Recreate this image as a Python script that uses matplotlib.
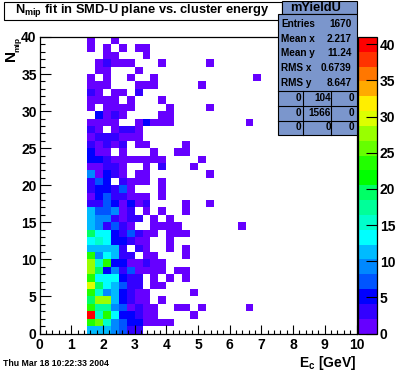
import matplotlib
matplotlib.use("Agg")
import matplotlib.pyplot as plt
from matplotlib.colors import ListedColormap, BoundaryNorm
from matplotlib.patches import Rectangle
from matplotlib.ticker import MultipleLocator
import numpy as np

plt.rcParams['font.family'] = ['Liberation Sans', 'DejaVu Sans']
plt.rcParams['font.weight'] = 'bold'
plt.rcParams['mathtext.fontset'] = 'custom'
plt.rcParams['mathtext.bf'] = 'Liberation Sans:bold'
plt.rcParams['mathtext.rm'] = 'Liberation Sans:bold'

W, H = 396, 372

palette = ['#6600ff', '#3300ff', '#0000ff', '#0055ff', '#0088ff', '#00bbff', '#00ffff',
           '#00ffcc', '#00ff99', '#00ff66', '#00ff00', '#22ff00', '#66ff00', '#99ff00',
           '#ddff00', '#ffee00', '#ffaa00', '#ff7700', '#ff3300', '#ff0000']
z_max = 41

# one dict per y bin, top row (39) first. key = column, 0.25 GeV wide, starting at 1.5 GeV
rows = [
    {0: 1, 3: 1},
    {0: 1, 2: 1, 4: 1, 6: 1, 7: 1},
    {2: 1, 3: 1, 7: 1},
    {1: 1, 2: 3, 3: 1, 4: 1, 5: 1, 9: 1, 15: 1},
    {1: 1, 2: 1, 6: 1},
    {0: 1, 2: 1, 5: 1, 8: 1, 21: 1},
    {0: 1, 1: 1, 2: 1, 6: 1, 7: 1, 8: 1, 14: 1},
    {0: 3, 1: 1, 3: 1, 4: 1, 6: 3},
    {0: 1, 1: 1, 2: 1, 3: 1, 5: 1, 9: 1},
    {0: 1, 2: 1, 3: 1, 4: 1, 5: 1, 10: 1, 15: 1},
    {1: 5, 2: 1, 3: 3, 4: 1, 9: 1, 10: 1},
    {0: 1, 1: 1, 2: 1, 3: 1, 6: 1, 7: 5, 8: 1, 9: 1, 10: 1, 20: 1},
    {0: 3, 1: 1, 3: 1, 4: 3, 5: 3, 6: 1},
    {0: 1, 1: 3, 2: 3, 3: 3, 4: 1, 5: 1, 6: 1},
    {0: 3, 1: 1, 2: 3, 3: 1, 4: 3, 6: 1, 7: 1, 12: 1},
    {0: 5, 1: 1, 2: 1, 4: 1, 8: 1, 11: 1, 12: 1},
    {0: 5, 1: 5, 2: 3, 3: 1, 4: 1, 5: 1, 6: 1, 7: 1, 8: 1, 9: 1, 14: 1},
    {0: 1, 1: 1, 2: 3, 3: 3, 4: 1, 7: 1, 9: 3, 13: 1},
    {0: 9, 1: 1, 2: 5, 3: 3, 4: 1, 6: 1, 7: 1, 15: 1},
    {0: 3, 1: 7, 2: 5, 4: 3, 5: 1, 6: 1, 7: 1, 9: 1},
    {0: 3, 1: 5, 2: 5, 3: 3, 4: 7, 5: 1, 9: 1},
    {0: 1, 1: 5, 2: 7, 3: 3, 4: 3, 5: 1, 6: 1, 7: 1, 9: 1},
    {0: 3, 1: 3, 2: 7, 3: 5, 4: 1, 5: 5, 6: 1, 7: 3, 12: 1, 15: 1},
    {0: 11, 1: 7, 2: 7, 3: 9, 4: 1, 5: 3, 7: 1, 9: 1, 12: 1},
    {0: 11, 1: 9, 2: 9, 3: 3, 4: 1, 5: 3, 6: 3, 8: 1, 10: 1},
    {0: 11, 1: 9, 2: 3, 3: 7, 4: 3, 5: 1, 8: 1, 9: 1, 10: 1, 11: 1, 19: 1},
    {0: 19, 1: 13, 2: 13, 3: 5, 4: 3, 5: 7, 6: 3, 7: 1, 8: 1, 10: 1, 11: 1, 12: 1},
    {0: 13, 1: 15, 2: 13, 3: 5, 4: 5, 5: 3, 6: 1, 7: 1, 10: 1},
    {0: 11, 1: 11, 2: 11, 3: 11, 4: 3, 6: 3, 7: 1, 10: 1, 12: 1},
    {0: 24, 1: 9, 2: 13, 3: 11, 4: 3, 5: 3, 7: 1, 8: 1, 12: 1},
    {0: 28, 1: 15, 2: 24, 3: 5, 4: 5, 5: 1, 6: 1, 7: 3, 8: 1, 9: 1},
    {0: 28, 1: 19, 2: 5, 3: 9, 4: 3, 5: 7, 6: 1, 7: 1, 8: 1, 9: 1, 11: 1, 12: 1},
    {0: 24, 1: 13, 2: 13, 3: 13, 4: 5, 5: 3, 6: 3, 8: 1, 10: 1, 12: 1},
    {0: 30, 1: 19, 2: 13, 3: 11, 4: 7, 5: 3, 6: 3, 8: 1, 9: 1},
    {0: 24, 1: 15, 2: 9, 3: 11, 4: 5, 5: 3, 6: 1, 7: 1, 13: 1},
    {0: 19, 1: 28, 2: 28, 3: 11, 4: 5, 5: 3, 6: 1, 7: 1, 9: 1},
    {0: 24, 1: 17, 2: 17, 3: 9, 4: 7, 5: 1, 6: 3, 7: 1, 8: 1, 11: 1, 12: 1, 14: 1, 20: 1},
    {0: 40, 1: 15, 2: 24, 3: 13, 4: 5, 5: 5, 6: 3, 7: 1, 8: 1, 13: 1},
    {0: 24, 1: 26, 2: 15, 3: 9, 4: 7, 5: 5, 6: 5, 7: 1, 8: 1, 9: 1, 10: 1},
    {0: 11, 1: 11, 2: 11, 3: 9, 4: 7, 5: 3, 6: 3},
]

stat_names = ['Entries', 'Mean x', 'Mean y', 'RMS x', 'RMS y']
stat_values = ['1670', '2.217', '11.24', '0.6739', '8.647']
overflow = [['0', '104', '0'], ['0', '1566', '0'], ['0', '0', '0']]

x_edges = np.arange(0, 10.01, 0.25)
y_edges = np.arange(0, 41)
z = np.full((40, 40), np.nan)
for i, row in enumerate(rows):
    for col, v in row.items():
        z[39 - i, 6 + col] = v


def box(l, t, r, b):
    # pixel box -> figure fractions
    return [l / W, 1 - b / H, (r - l) / W, (b - t) / H]


fig = plt.figure(figsize=(W / 100, H / 100), dpi=100, facecolor='white')
ax = fig.add_axes(box(39.5, 37, 356.5, 333.5))
cmap = ListedColormap(palette)
cmap.set_bad('white')
norm = BoundaryNorm(np.linspace(0, z_max, 21), 20)
mesh = ax.pcolormesh(x_edges, y_edges, np.ma.masked_invalid(z), cmap=cmap, norm=norm)
ax.set_xlim(0, 10)
ax.set_ylim(0, 40)
for s in ax.spines.values():
    s.set_linewidth(0.9)
ax.xaxis.set_major_locator(MultipleLocator(1))
ax.xaxis.set_minor_locator(MultipleLocator(0.2))
ax.yaxis.set_major_locator(MultipleLocator(5))
ax.yaxis.set_minor_locator(MultipleLocator(1))
ax.tick_params(axis='x', which='major', direction='in', length=6.7, width=0.8, labelsize=10, pad=3)
ax.tick_params(axis='x', which='minor', direction='in', length=3.2, width=0.8)
ax.tick_params(axis='y', which='major', direction='in', length=7.7, width=0.8, labelsize=10, pad=2)
ax.tick_params(axis='y', which='minor', direction='in', length=3.8, width=0.8)

cax = fig.add_axes(box(358, 37, 377, 333.5))
cb = fig.colorbar(mesh, cax=cax, spacing='proportional', ticks=np.arange(0, 41, 5))
cb.outline.set_linewidth(0.9)
cb.ax.minorticks_off()
cb.ax.tick_params(direction='in', length=7.7, width=0.8, labelsize=10, pad=2)
cb.ax.set_yticklabels([str(t) for t in range(0, 41, 5)])

fig.text(356 / W, 1 - 366.5 / H, r'$\mathbf{E_c}$ [GeV]', ha='right', va='baseline', fontsize=10)
fig.text(11.5 / W, 1 - 61 / H, 'N', rotation=90, ha='center', va='bottom', fontsize=11)
fig.text(17.5 / W, 1 - 37 / H, 'mip', rotation=90, ha='center', va='top', fontsize=6)
fig.text(3 / W, 1 - 366.5 / H, 'Thu Mar 18 10:22:33 2004', ha='left', va='baseline', fontsize=6.3)

# title box and stats box are drawn in pixel coords on a full figure overlay
ov = fig.add_axes([0, 0, 1, 1], zorder=5)
ov.set_xlim(0, W)
ov.set_ylim(H, 0)
ov.axis('off')
blue = '#7b96cc'
ov.add_patch(Rectangle((3.5, 2), 278, 18, fc='white', ec='black', lw=0.8))
ov.text(142, 11, r'$\mathbf{N_{mip}}$ fit in SMD-U plane vs. cluster energy', ha='center', va='center', fontsize=9.3)
ov.add_patch(Rectangle((281.5, 1), 75, 13, fc=blue, ec='black', lw=0.8))
ov.text(316, 8, 'mYieldU', ha='center', va='center', fontsize=9.3)
ov.add_patch(Rectangle((277.5, 14), 79, 121, fc=blue, ec='black', lw=0.8))
stat_y = [24, 39, 53.5, 68, 83]
for name, val, y in zip(stat_names, stat_values, stat_y):
    ov.text(281, y, name, ha='left', va='center', fontsize=7.2)
    ov.text(351.5, y, val, ha='right', va='center', fontsize=7.2)
for y in [91, 106, 120.5]:
    ov.plot([277.5, 356.5], [y, y], color='black', lw=0.8)
for x in [303, 330.5]:
    ov.plot([x, x], [91, 135], color='black', lw=0.8)
col_right = [301.5, 331, 354]
row_mid = [98, 113, 127.5]
for cells, y in zip(overflow, row_mid):
    for c, x, in zip(cells, col_right):
        ov.text(x, y, c, ha='right', va='center', fontsize=7.2)

fig.savefig('out.png', dpi=100)
